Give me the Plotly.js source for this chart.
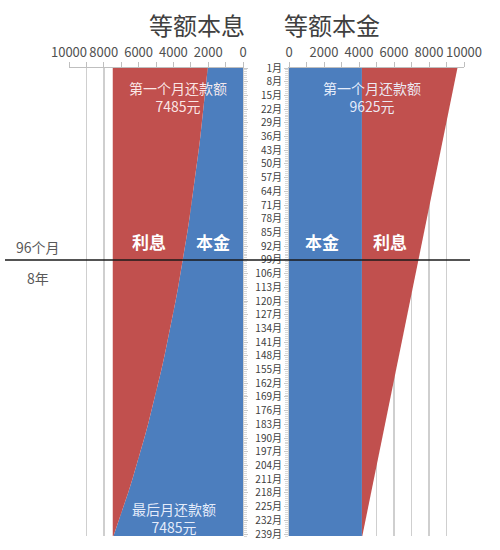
<!DOCTYPE html>
<html>
<head>
<meta charset="utf-8">
<script src="https://cdn.plot.ly/plotly-3.0.1.min.js"></script>
<style>html,body{margin:0;padding:0;background:#fff;}#chart{width:500px;height:550px;}</style>
</head>
<body>
<div id="chart"></div>
<script>
// Months (every 7th month, plus the last)
const months = [1,8,15,22,29,36,43,50,57,64,71,78,85,92,99,106,113,120,127,134,141,148,155,162,169,176,183,190,197,204,211,218,225,232,239,240];
// 等额本息: principal part of the monthly payment (本金) and total payment
const eqPayPrincipal = [2027,2106,2187,2272,2361,2452,2548,2647,2749,2856,2967,3082,3202,3326,3456,3590,3729,3874,4025,4181,4343,4512,4687,4869,5058,5255,5459,5671,5891,6120,6358,6605,6861,7128,7404,7444];
const eqPayTotal = [7485,7485,7485,7485,7485,7485,7485,7485,7485,7485,7485,7485,7485,7485,7485,7485,7485,7485,7485,7485,7485,7485,7485,7485,7485,7485,7485,7485,7485,7485,7485,7485,7485,7485,7485,7485];
// 等额本金: constant principal part and total monthly payment
const eqPrinPrincipal = [4167,4167,4167,4167,4167,4167,4167,4167,4167,4167,4167,4167,4167,4167,4167,4167,4167,4167,4167,4167,4167,4167,4167,4167,4167,4167,4167,4167,4167,4167,4167,4167,4167,4167,4167,4167];
const eqPrinTotal = [9625,9466,9307,9148,8988,8829,8670,8511,8352,8192,8033,7874,7715,7556,7396,7237,7078,6919,6760,6600,6441,6282,6123,5964,5804,5645,5486,5327,5168,5008,4849,4690,4531,4372,4212,4189];
// Tick labels
const labelMonths = [1,8,15,22,29,36,43,50,57,64,71,78,85,92,99,106,113,120,127,134,141,148,155,162,169,176,183,190,197,204,211,218,225,232,239];
const xTicks = [0,2000,4000,6000,8000,10000];
const markerMonth = 99;

const RED = '#C1504E';
const BLUE = '#4C7EBE';
const FONT = '"Noto Sans CJK SC", "Noto Sans", sans-serif';

const traces = [
  {x: eqPayPrincipal, y: months, xaxis:'x', yaxis:'y', mode:'lines', line:{width:0, color:BLUE}, fill:'tozerox', fillcolor:BLUE, hoverinfo:'skip'},
  {x: eqPayTotal, y: months, xaxis:'x', yaxis:'y', mode:'lines', line:{width:0, color:RED}, fill:'tonextx', fillcolor:RED, hoverinfo:'skip'},
  {x: eqPrinPrincipal, y: months, xaxis:'x2', yaxis:'y2', mode:'lines', line:{width:0, color:BLUE}, fill:'tozerox', fillcolor:BLUE, hoverinfo:'skip'},
  {x: eqPrinTotal, y: months, xaxis:'x2', yaxis:'y2', mode:'lines', line:{width:0, color:RED}, fill:'tonextx', fillcolor:RED, hoverinfo:'skip'}
];

const yDom = [1-536/550, 1-68/550];
const xAxisCommon = {
  side:'top', tickmode:'array', tickvals:xTicks, ticktext:xTicks.map(String), tickangle:0,
  tickfont:{family:FONT, size:13, color:'#505050'},
  ticks:'outside', ticklen:5, tickcolor:'#bfbfbf',
  showgrid:true, gridcolor:'#cfcfcf', gridwidth:1.5,
  minor:{dtick:1000, tick0:0, showgrid:true, gridcolor:'#cfcfcf', gridwidth:1.5, ticks:'outside', ticklen:5, tickcolor:'#bfbfbf'},
  showline:true, linecolor:'#bfbfbf', linewidth:1, zeroline:false, fixedrange:true
};

function ann(text, px, py, size, color) {
  return {text:text, xref:'paper', yref:'paper', x:px/500, y:1-py/550, xanchor:'center', yanchor:'middle',
          showarrow:false, font:{family:FONT, size:size, color:color}};
}

const layout = {
  width:500, height:550,
  margin:{l:0, r:0, t:0, b:0},
  paper_bgcolor:'#ffffff', plot_bgcolor:'rgba(0,0,0,0)',
  showlegend:false,
  xaxis: Object.assign({}, xAxisCommon, {domain:[69/500, 243/500], range:[10000, 0], anchor:'y'}),
  xaxis2: Object.assign({}, xAxisCommon, {domain:[289/500, 464/500], range:[0, 10000], anchor:'y2'}),
  yaxis: {domain:yDom, range:[240, 1], anchor:'x', side:'right', showticklabels:false,
          tickmode:'array', tickvals:labelMonths, ticks:'outside', ticklen:4, tickcolor:'#c8c8c8',
          minor:{dtick:1, tick0:0, ticks:'outside', ticklen:3, tickcolor:'#d8d8d8'},
          showgrid:false, zeroline:false, showline:true, linecolor:'#d0d0d0', fixedrange:true},
  yaxis2: {domain:yDom, range:[240, 1], anchor:'x2', side:'left', matches:'y',
          tickmode:'array', tickvals:labelMonths, ticktext:labelMonths.map(m => m + '月'),
          tickfont:{family:FONT, size:10, color:'#404040'},
          ticks:'outside', ticklen:4, tickcolor:'#c8c8c8',
          minor:{dtick:1, tick0:0, ticks:'outside', ticklen:3, tickcolor:'#d8d8d8'},
          showgrid:false, zeroline:false, showline:true, linecolor:'#d0d0d0', fixedrange:true},
  shapes: [
    {type:'line', xref:'paper', yref:'y', x0:5/500, x1:470/500, y0:markerMonth, y1:markerMonth, line:{color:'#1a1a1a', width:1.5}}
  ],
  annotations: [
    ann('等额本息', 197, 24, 24, '#404040'),
    ann('等额本金', 332, 24, 24, '#404040'),
    ann('第一个月还款额<br>7485元', 178, 97, 14, 'rgba(255,240,240,0.95)'),
    ann('第一个月还款额<br>9625元', 372, 97, 14, 'rgba(240,244,255,0.95)'),
    ann('<b>利息</b>', 149, 242, 17, '#ffffff'),
    ann('<b>本金</b>', 213, 242, 17, '#ffffff'),
    ann('<b>本金</b>', 322, 242, 17, '#ffffff'),
    ann('<b>利息</b>', 390, 242, 17, '#ffffff'),
    ann('最后月还款额<br>7485元', 174, 518, 14, 'rgba(240,244,255,0.95)'),
    ann('96个月', 38, 247, 14, '#595959'),
    ann('8年', 38, 278, 14, '#595959')
  ]
};

Plotly.newPlot('chart', traces, layout, {displayModeBar:false, staticPlot:true});
</script>
</body>
</html>
